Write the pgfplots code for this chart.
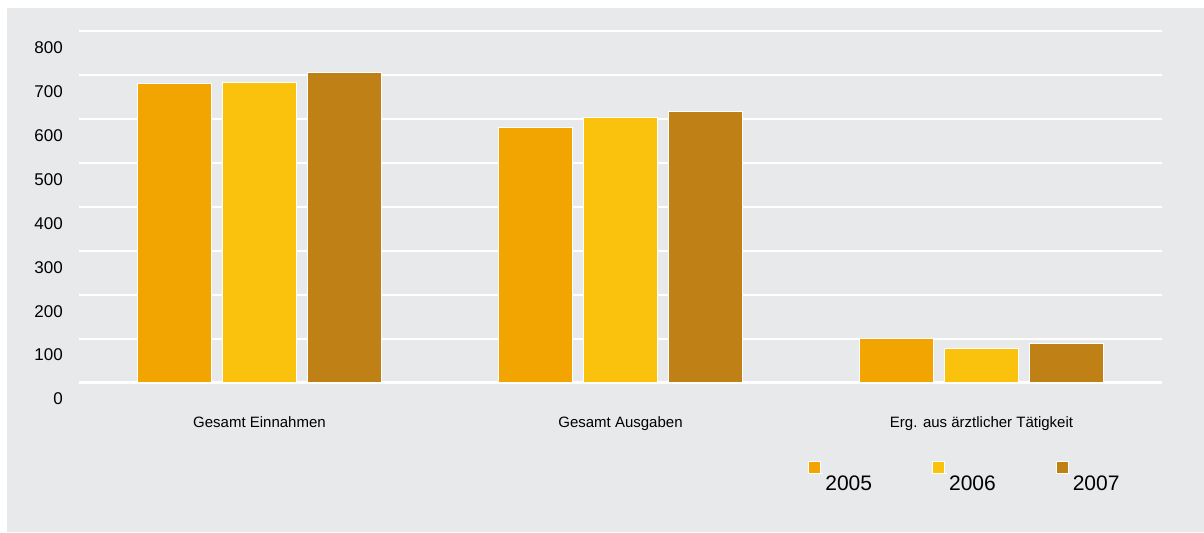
\documentclass[border=0pt]{standalone}
\usepackage{pgfplots}
\pgfplotsset{compat=1.18}
\usepackage{fontspec}
\setmainfont{Liberation Sans}
\definecolor{bg}{RGB}{232,233,235}
\definecolor{cA}{RGB}{242,165,0}
\definecolor{cB}{RGB}{250,194,13}
\definecolor{cC}{RGB}{191,129,22}
\pgfplotsset{sq legend/.style={legend image code/.code={\path (0bp,10bp) -- (14bp,10bp);\draw[##1, draw=white, line width=1bp] (0bp,10bp) rectangle (12bp,22bp);}}}
\begin{document}
\begin{tikzpicture}
\useasboundingbox (0bp,0bp) rectangle (1204bp,533bp);
\fill[white] (0bp,0bp) rectangle (1204bp,533bp);
\fill[bg] (7bp,1bp) rectangle (1204bp,525bp);
\begin{axis}[
  at={(79bp,150bp)}, anchor=south west,
  scale only axis, width=1083bp, height=352bp,
  xmin=-0.5, xmax=2.5, ymin=0, ymax=800,
  ybar=11bp, bar width=74bp,
  axis line style={draw=none},
  major tick length=0pt,
  ymajorgrids, major grid style={draw=white, line width=1.5bp},
  ytick={0,100,...,800},
  extra y ticks={0}, extra y tick labels={},
  extra y tick style={major grid style={draw=white, line width=3bp}},
  xtick={0,1,2},
  xticklabels={Gesamt Einnahmen, Gesamt Ausgaben, Erg. aus ärztlicher Tätigkeit},
  xticklabel style={anchor=base, inner sep=0pt, yshift=-44bp, font=\fontsize{15bp}{18bp}\selectfont},
  yticklabel style={anchor=base east, inner sep=0pt, xshift=-16bp, yshift=-22bp, font=\fontsize{17bp}{20bp}\selectfont},
  /pgf/number format/assume math mode=true,
  legend columns=3,
  legend style={at={(0.6735,-0.2216)}, anchor=north west, draw=none, fill=none, inner sep=0pt, outer sep=0pt,
    font=\fontsize{21bp}{25bp}\selectfont,
    /tikz/every even column/.append style={column sep=58bp}},
]
\addplot[fill=cA, draw=white, line width=1bp, sq legend] coordinates {(0,680) (1,580) (2,100)};
\addlegendentry{2005}
\addplot[fill=cB, draw=white, line width=1bp, sq legend] coordinates {(0,684) (1,603) (2,79)};
\addlegendentry{2006}
\addplot[fill=cC, draw=white, line width=1bp, sq legend] coordinates {(0,705) (1,616) (2,90)};
\addlegendentry{2007}
\end{axis}
\end{tikzpicture}
\end{document}
